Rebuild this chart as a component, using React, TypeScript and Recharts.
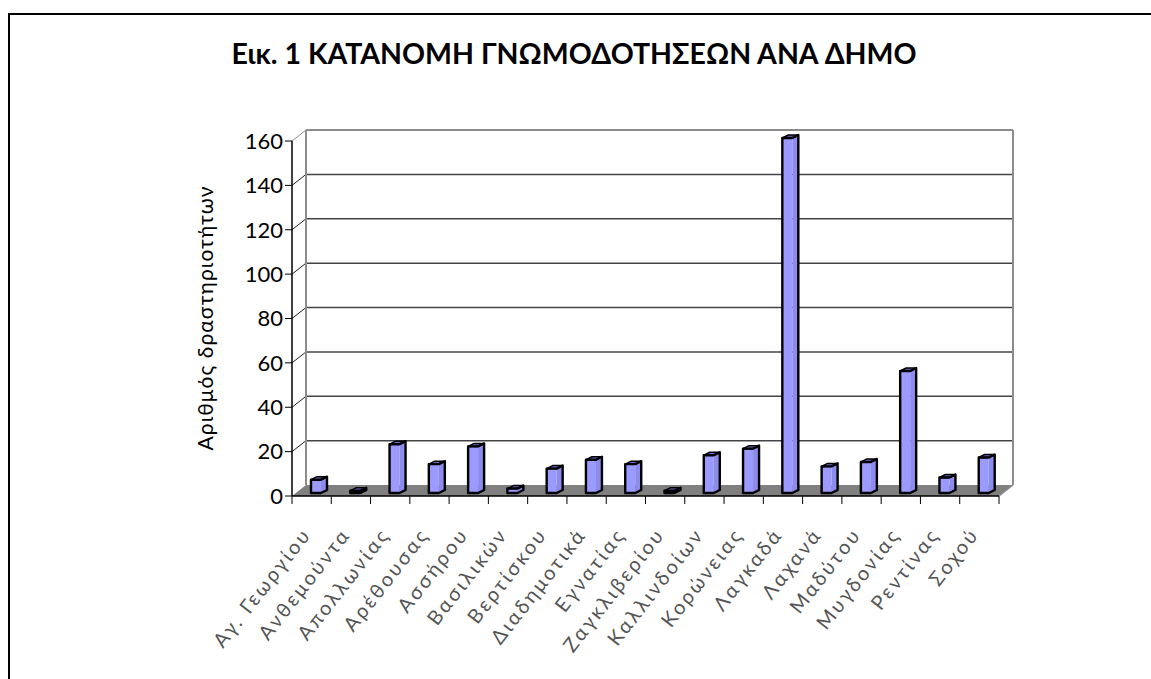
import { BarChart, Bar, XAxis, YAxis, CartesianGrid } from "recharts";

const categories = [
  "Αγ. Γεωργίου", "Ανθεμούντα", "Απολλωνίας", "Αρέθουσας", "Ασσήρου", "Βασιλικών",
  "Βερτίσκου", "Διαδημοτικά", "Εγνατίας", "Ζαγκλιβερίου", "Καλλινδοίων", "Κορώνειας",
  "Λαγκαδά", "Λαχανά", "Μαδύτου", "Μυγδονίας", "Ρεντίνας", "Σοχού",
];
const values = [6, 1, 22, 13, 21, 2, 11, 15, 13, 1, 17, 20, 160, 12, 14, 55, 7, 16];
const yTicks = [0, 20, 40, 60, 80, 100, 120, 140, 160];
const title = "Εικ. 1 ΚΑΤΑΝΟΜΗ ΓΝΩΜΟΔΟΤΗΣΕΩΝ ΑΝΑ ΔΗΜΟ";
const yTitle = "Αριθμός δραστηριοτήτων";

const FONT = "Lato, 'Open Sans', sans-serif";
const data = categories.map((name, i) => ({ name, value: values[i] }));

// depth of the fake 3d box
const DX = 14;
const DY = -11;
const STEP = 707 / categories.length;

const GridLine = (props: any) => {
  const { x1, x2, y1 } = props;
  const isFloor = y1 > 480;
  const isTop = y1 < 150;
  return (
    <g>
      {isFloor && (
        <polygon
          points={`${x1},${y1} ${x1 + DX},${y1 + DY} ${x2 + DX},${y1 + DY} ${x2},${y1}`}
          fill="#808080"
        />
      )}
      {!isFloor && (
        <line x1={x1} y1={y1} x2={x1 + DX} y2={y1 + DY} stroke={isTop ? "#8c8c8c" : "#222"} strokeWidth={1} />
      )}
      {!isFloor && (
        <line
          x1={x1 + DX} y1={y1 + DY} x2={x2 + DX} y2={y1 + DY}
          stroke={isTop ? "#8c8c8c" : "#444"} strokeWidth={isTop ? 2 : 1.5}
        />
      )}
      {isTop && (
        <>
          <line x1={x1 + DX} y1={y1 + DY} x2={x1 + DX} y2={496 + DY} stroke="#8c8c8c" strokeWidth={2} />
          <line x1={x2 + DX} y1={y1 + DY} x2={x2 + DX} y2={496 + DY} stroke="#8c8c8c" strokeWidth={2} />
        </>
      )}
      {isFloor && (
        <line x1={x2} y1={y1} x2={x2 + DX} y2={y1 + DY} stroke="#8c8c8c" strokeWidth={1.5} />
      )}
    </g>
  );
};

const Column = (props: any) => {
  const { x, y, width, height } = props;
  const sx = x + 7;
  const sy = y - 3;
  const bottom = sy + height;
  const front = 10;
  const side = width - front;
  return (
    <g stroke="#000" strokeWidth={1.5} strokeLinejoin="round">
      <rect x={sx} y={sy} width={front} height={height} fill="#9a9aff" stroke="none" />
      <polygon
        points={`${sx + front},${sy} ${sx + width},${sy - 3} ${sx + width},${bottom - 3} ${sx + front},${bottom}`}
        fill="#8c8cec"
        stroke="none"
      />
      <polygon
        points={`${sx},${sy} ${sx + side},${sy - 3} ${sx + width},${sy - 3} ${sx + front},${sy}`}
        fill="#6a6ad0"
      />
      <polygon
        points={`${sx},${sy} ${sx + front},${sy} ${sx + width},${sy - 3} ${sx + width},${bottom - 3} ${sx + front},${bottom} ${sx},${bottom}`}
        fill="none"
        strokeWidth={2.4}
      />
    </g>
  );
};

const CategoryTick = (props: any) => {
  const { x, payload, index } = props;
  const left = x - STEP / 2;
  const right = x + STEP / 2;
  return (
    <g>
      {index === 0 && <line x1={left} y1={496} x2={left} y2={504} stroke="#000" />}
      <line x1={right} y1={496} x2={right} y2={504} stroke="#000" />
      <text
        x={x - 12}
        y={525}
        transform={`rotate(-52 ${x - 12} 525)`}
        textAnchor="end"
        dominantBaseline="hanging"
        fontFamily={FONT}
        fontSize={20}
        letterSpacing={2.6}
        fill="#555"
      >
        {payload.value}
      </text>
    </g>
  );
};

export default function App() {
  return (
    <div style={{ position: "absolute", left: 0, top: 0, width: 1151, height: 679, background: "#fff", overflow: "hidden" }}>
      <div style={{ position: "absolute", left: 8, top: 13, width: 1200, height: 680, borderTop: "2px solid #000", borderLeft: "2px solid #000" }} />
      <BarChart
        width={1151}
        height={679}
        data={data}
        margin={{ top: 141, right: 152, bottom: 0, left: 0 }}
        barSize={16}
        style={{ position: "absolute", left: 0, top: 0 }}
      >
        <text x={574} y={64} textAnchor="middle" fontFamily={FONT} fontSize={28.5} fontWeight={700} fill="#000">
          {title}
        </text>
        <text
          x={213}
          y={318}
          transform="rotate(-90 213 318)"
          textAnchor="middle"
          fontFamily={FONT}
          fontSize={21}
          letterSpacing={1.1}
          fill="#000"
        >
          {yTitle}
        </text>
        <CartesianGrid vertical={false} horizontal={GridLine as any} />
        <XAxis
          dataKey="name"
          interval={0}
          height={183}
          axisLine={{ stroke: "#000", strokeWidth: 1.5 }}
          tickLine={false}
          tick={CategoryTick}
          scale="band"
        />
        <YAxis
          width={292}
          domain={[0, 160]}
          ticks={yTicks}
          interval={0}
          axisLine={{ stroke: "#000", strokeWidth: 1.5 }}
          tickLine={{ stroke: "#000" }}
          tickSize={7}
          tick={{ fontFamily: FONT, fontSize: 22, fill: "#000" }}
        />
        <Bar dataKey="value" isAnimationActive={false} shape={Column} />
      </BarChart>
    </div>
  );
}
